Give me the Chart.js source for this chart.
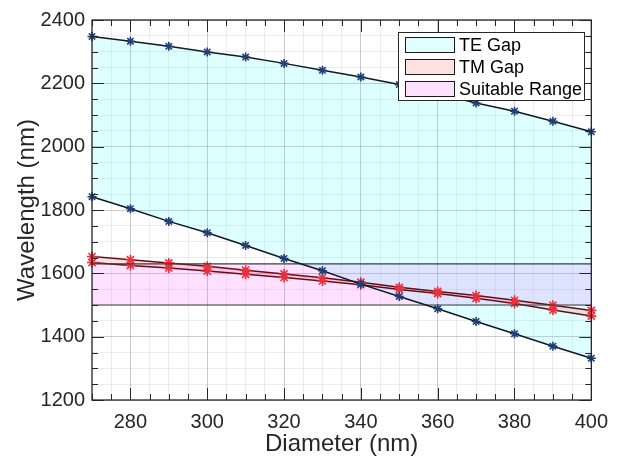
<!DOCTYPE html>
<html>
<head>
<meta charset="utf-8">
<script src="https://cdn.jsdelivr.net/npm/chart.js@4"></script>
<style>
 html,body{margin:0;padding:0;background:#fff;}
 #wrap{width:618px;height:461px;}
</style>
</head>
<body>
<div id="wrap"><canvas id="c" width="618" height="461"></canvas></div>
<script>
// ===== DATOS =====
const diameters=[270,280,290,300,310,320,330,340,350,360,370,380,390,400];
const teUpper=[2348,2333,2317,2299,2283,2263,2241,2220,2196,2168,2138,2112,2080,2047];
const teLower=[1842,1804,1764,1728,1688,1647,1608,1566,1527,1488,1448,1409,1370,1332];
const tmUpper=[1653,1643,1633,1622,1610,1598,1586,1572,1556,1543,1530,1515,1499,1483];
const tmLower=[1634,1625,1617,1607,1597,1587,1576,1564,1549,1536,1521,1505,1484,1465];
const rangeX=[270,400];
const rangeTop=[1630,1630];
const rangeBottom=[1500,1500];
const legendLabels=["TE Gap","TM Gap","Suitable Range"];
const xLimits=[270,400], yLimits=[1200,2400];
const xMajor=20, xMinor=5, yMajor=200, yMinor=50;

// ===== ESTILO =====
const FONT="'Liberation Sans', Arial, Helvetica, sans-serif";
const AX="#262626";
const cyanFill="rgba(0,255,255,0.13)";
const redFill="rgba(255,0,0,0.12)";
const magFill="rgba(255,0,255,0.12)";
const legendPatch=["rgb(224,255,255)","rgb(255,224,224)","rgb(255,224,255)"];

const pts=(xs,ys)=>xs.map((x,i)=>({x:x,y:ys[i]}));

function serie(label,data,line,mark,r,fill,bg){
 return {label:label,data:data,borderColor:line,borderWidth:1.5,
  pointStyle:"star",pointRadius:r,pointBorderColor:mark,pointBorderWidth:1.6,
  pointBackgroundColor:mark,fill:fill,backgroundColor:bg,clip:false,tension:0};
}

// ===== MARCO Y TICKS =====
const marco={
 id:"marco",
 afterDatasetsDraw(chart){
  const {ctx,chartArea:a,scales:{x,y}}=chart;
  ctx.save();
  ctx.strokeStyle=AX;ctx.lineWidth=1;
  ctx.beginPath();
  for(let v=xLimits[0];v<=xLimits[1];v+=xMinor){
   const px=Math.round(x.getPixelForValue(v))+0.5;
   const len=v%xMajor===0?12:6;
   ctx.moveTo(px,a.bottom);ctx.lineTo(px,a.bottom-len);
   ctx.moveTo(px,a.top);ctx.lineTo(px,a.top+len);
  }
  for(let v=yLimits[0];v<=yLimits[1];v+=yMinor){
   const py=Math.round(y.getPixelForValue(v))+0.5;
   const len=v%yMajor===0?12:6;
   ctx.moveTo(a.left,py);ctx.lineTo(a.left+len,py);
   ctx.moveTo(a.right,py);ctx.lineTo(a.right-len,py);
  }
  ctx.stroke();
  ctx.lineWidth=1.3;
  ctx.strokeRect(a.left,a.top,a.right-a.left,a.bottom-a.top);
  ctx.restore();
 }
};

// ===== LEYENDA =====
const leyenda={
 id:"leyenda",
 afterDraw(chart){
  const ctx=chart.ctx;
  const bx=398,by=32,bw=186,bh=68;
  ctx.save();
  ctx.fillStyle="#fff";ctx.fillRect(bx,by,bw,bh);
  ctx.strokeStyle=AX;ctx.lineWidth=1;ctx.strokeRect(bx+0.5,by+0.5,bw,bh);
  ctx.font="18px "+FONT;ctx.textBaseline="middle";
  legendLabels.forEach((t,i)=>{
   const cy=by+13+i*22;
   ctx.fillStyle=legendPatch[i];ctx.fillRect(405,cy-8,50,16);
   ctx.strokeStyle="#1a1a1a";ctx.strokeRect(405.5,cy-7.5,49,15);
   ctx.fillStyle="#000";ctx.fillText(t,459,cy+1);
  });
  ctx.restore();
 }
};

new Chart(document.getElementById("c"),{
 type:"line",
 data:{datasets:[
  serie("TE upper",pts(diameters,teUpper),"#101828","#1f3f75",4.5,"+1",cyanFill),
  serie("TE lower",pts(diameters,teLower),"#101828","#1f3f75",4.5,false,"transparent"),
  {label:"Range top",data:pts(rangeX,rangeTop),borderColor:"#3c3c3c",borderWidth:1.2,pointRadius:0,fill:"+1",backgroundColor:magFill},
  {label:"Range bottom",data:pts(rangeX,rangeBottom),borderColor:"#3c3c3c",borderWidth:1.2,pointRadius:0,fill:false},
  serie("TM upper",pts(diameters,tmUpper),"#6a0c16","#ec2f3a",5,"+1",redFill),
  serie("TM lower",pts(diameters,tmLower),"#6a0c16","#ec2f3a",5,false,"transparent")
 ]},
 options:{
  responsive:false,animation:false,
  layout:{padding:{left:0,right:18,top:20,bottom:0}},
  plugins:{legend:{display:false},tooltip:{enabled:false},filler:{drawTime:"beforeDatasetsDraw"}},
  scales:{
   x:{type:"linear",min:xLimits[0],max:xLimits[1],
    afterFit:s=>{s.height=61;},
    border:{display:false},
    grid:{drawTicks:false,lineWidth:1,color:c=>c.tick&&c.tick.value%xMajor===0?"rgba(0,0,0,0.2)":"rgba(0,0,0,0.07)"},
    ticks:{stepSize:xMinor,autoSkip:false,maxRotation:0,minRotation:0,padding:10,color:AX,
     font:{family:FONT,size:20},callback:v=>v%xMajor===0?String(v):""},
    title:{display:true,text:"Diameter (nm)",color:AX,font:{family:FONT,size:24},padding:{top:0,bottom:2}}
   },
   y:{type:"linear",min:yLimits[0],max:yLimits[1],
    afterFit:s=>{s.width=92;},
    border:{display:false},
    grid:{drawTicks:false,lineWidth:1,color:c=>c.tick&&c.tick.value%yMajor===0?"rgba(0,0,0,0.2)":"rgba(0,0,0,0.07)"},
    ticks:{stepSize:yMinor,autoSkip:false,padding:7,color:AX,
     font:{family:FONT,size:20},callback:v=>v%yMajor===0?String(v):""},
    title:{display:true,text:"Wavelength (nm)",color:AX,font:{family:FONT,size:24},padding:{top:13,bottom:0}}
   }
  }
 },
 plugins:[marco,leyenda]
});
</script>
</body>
</html>
